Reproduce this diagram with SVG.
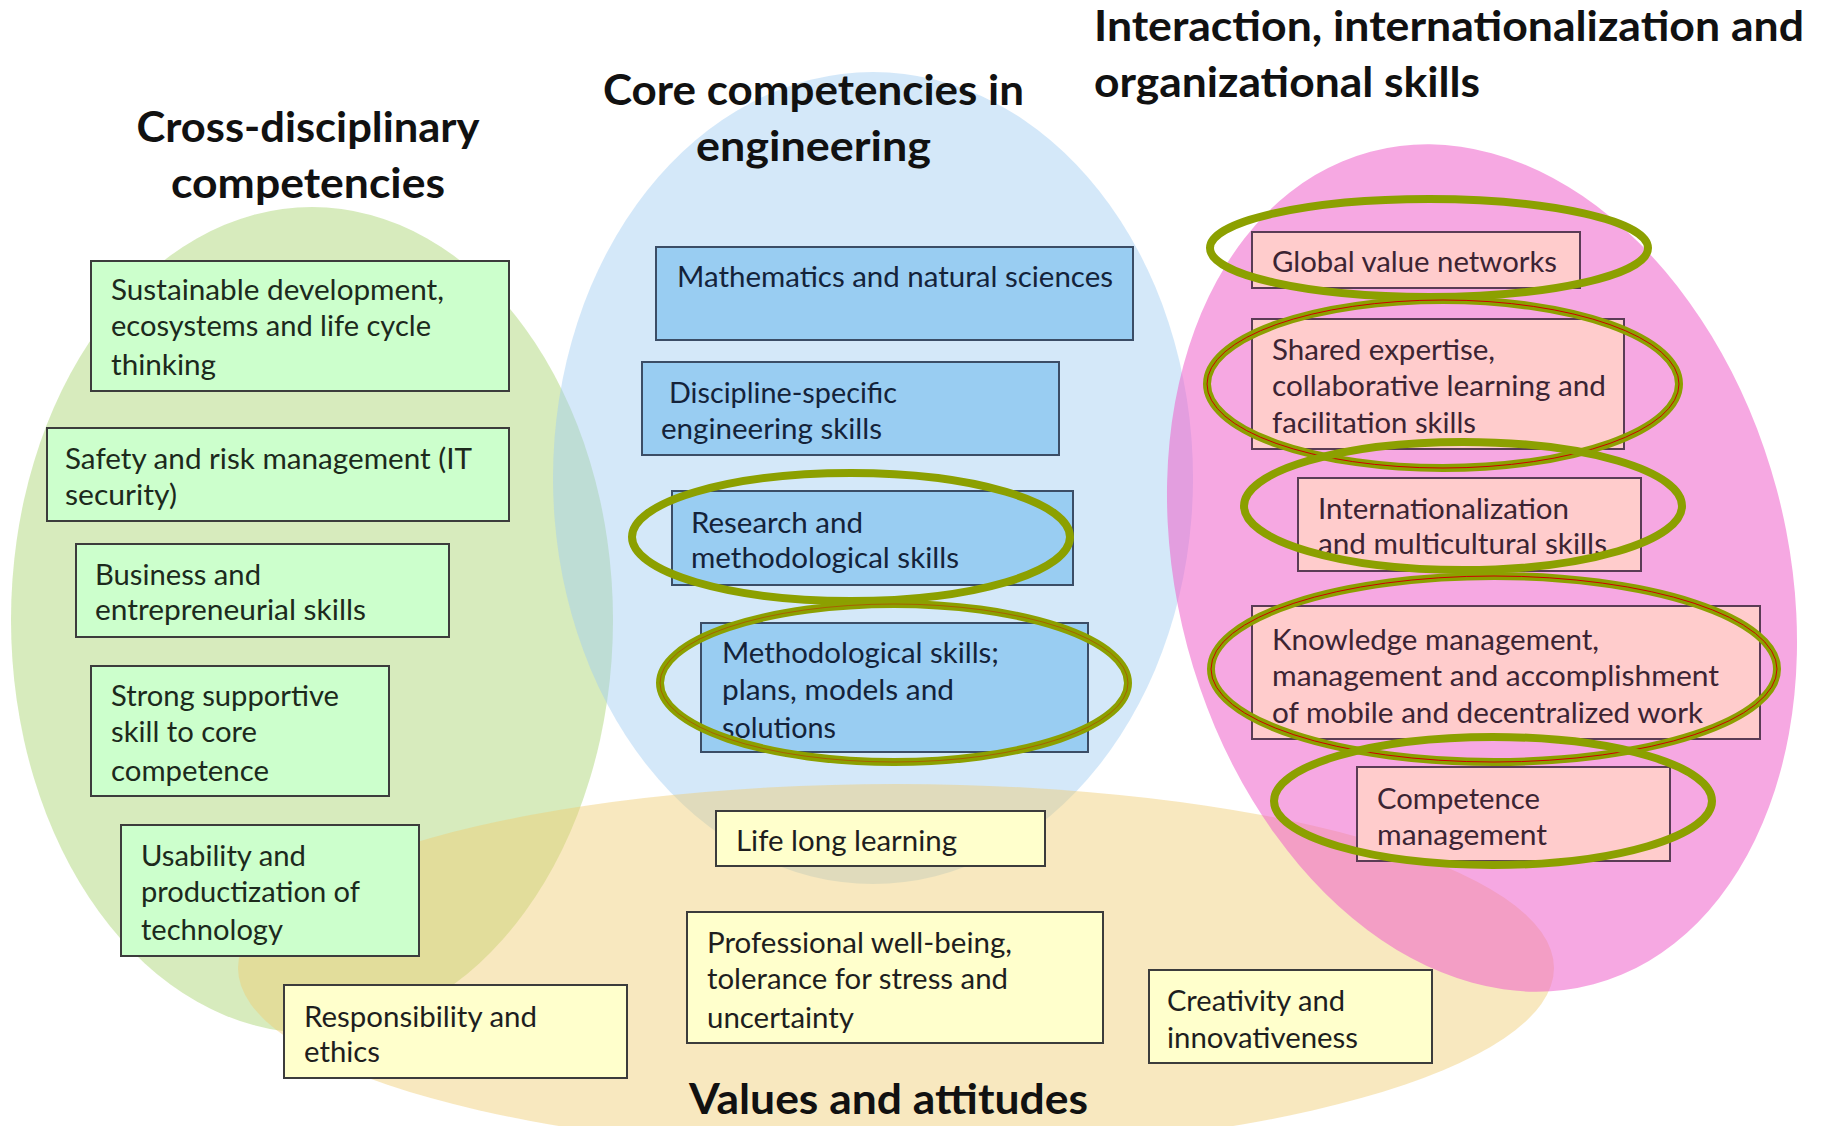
<svg xmlns="http://www.w3.org/2000/svg" width="1825" height="1126" viewBox="0 0 1825 1126">
<style>
.title{font-family:Lato,"Open Sans",sans-serif;font-weight:bold;font-size:42px;fill:#111}
.t{font-family:Lato,"Open Sans",sans-serif;font-size:28px}
.g rect{fill:#ccffcc;stroke:#3c3c3c;stroke-width:2}
.g text{fill:#1c2a1c}
.b rect{fill:#99cdf2;stroke:#3b4d66;stroke-width:2}
.b text{fill:#14233a}
.p rect{fill:#ffcccc;stroke:#5a3c55;stroke-width:2}
.p text{fill:#3c2433}
.y rect{fill:#ffffcc;stroke:#3c3c3c;stroke-width:2}
.y text{fill:#1e1e1e}
.hl{fill:none;stroke:#8ca000;stroke-width:8}
.red{fill:none;stroke:#cc0000;stroke-width:1}
</style>
<rect width="1825" height="1126" fill="#ffffff"/>
<g id="areas">
<ellipse cx="312" cy="620" rx="301" ry="413" fill="#9acd5a" fill-opacity="0.4"/>
<ellipse cx="873" cy="478" rx="320" ry="406" fill="#9fcdf2" fill-opacity="0.45"/>
<ellipse cx="896" cy="968" rx="658" ry="184" fill="#f0cc70" fill-opacity="0.45"/>
<ellipse cx="1482" cy="568" rx="305" ry="431" fill="#ee60ca" fill-opacity="0.55" transform="rotate(-15 1482 568)"/>
</g>
<g id="titles">
<text class="title" x="308" y="142" text-anchor="middle" textLength="343" lengthAdjust="spacingAndGlyphs">Cross-disciplinary</text>
<text class="title" x="308" y="198" text-anchor="middle" textLength="274" lengthAdjust="spacingAndGlyphs">competencies</text>
<text class="title" x="603" y="105" textLength="421" lengthAdjust="spacingAndGlyphs">Core competencies in</text>
<text class="title" x="696" y="161" textLength="235" lengthAdjust="spacingAndGlyphs">engineering</text>
<text class="title" x="1094" y="41" textLength="710" lengthAdjust="spacingAndGlyphs">Interaction, internationalization and</text>
<text class="title" x="1094" y="97" textLength="386" lengthAdjust="spacingAndGlyphs">organizational skills</text>
<text class="title" x="689" y="1114" textLength="399" lengthAdjust="spacingAndGlyphs">Values and attitudes</text>
</g>
<g id="g1" class="g"><rect x="91" y="261" width="418" height="130"/>
<text class="t" x="111" y="300" textLength="333" lengthAdjust="spacingAndGlyphs">Sustainable development,</text>
<text class="t" x="111" y="336" textLength="320" lengthAdjust="spacingAndGlyphs">ecosystems and life cycle</text>
<text class="t" x="111" y="375" textLength="105" lengthAdjust="spacingAndGlyphs">thinking</text></g>
<g id="g2" class="g"><rect x="47" y="428" width="462" height="93"/>
<text class="t" x="65" y="469" textLength="407" lengthAdjust="spacingAndGlyphs">Safety and risk management (IT</text>
<text class="t" x="65" y="505" textLength="112" lengthAdjust="spacingAndGlyphs">security)</text></g>
<g id="g3" class="g"><rect x="76" y="544" width="373" height="93"/>
<text class="t" x="95" y="585" textLength="166" lengthAdjust="spacingAndGlyphs">Business and</text>
<text class="t" x="95" y="620" textLength="271" lengthAdjust="spacingAndGlyphs">entrepreneurial skills</text></g>
<g id="g4" class="g"><rect x="91" y="666" width="298" height="130"/>
<text class="t" x="111" y="706" textLength="228" lengthAdjust="spacingAndGlyphs">Strong supportive</text>
<text class="t" x="111" y="742" textLength="146" lengthAdjust="spacingAndGlyphs">skill to core</text>
<text class="t" x="111" y="781" textLength="158" lengthAdjust="spacingAndGlyphs">competence</text></g>
<g id="g5" class="g"><rect x="121" y="825" width="298" height="131"/>
<text class="t" x="141" y="866" textLength="165" lengthAdjust="spacingAndGlyphs">Usability and</text>
<text class="t" x="141" y="902" textLength="219" lengthAdjust="spacingAndGlyphs">productization of</text>
<text class="t" x="141" y="940" textLength="142" lengthAdjust="spacingAndGlyphs">technology</text></g>
<g id="b1" class="b"><rect x="656" y="247" width="477" height="93"/>
<text class="t" x="677" y="287" textLength="436" lengthAdjust="spacingAndGlyphs">Mathematics and natural sciences</text></g>
<g id="b2" class="b"><rect x="642" y="362" width="417" height="93"/>
<text class="t" x="669" y="403" textLength="228" lengthAdjust="spacingAndGlyphs">Discipline-specific</text>
<text class="t" x="661" y="439" textLength="221" lengthAdjust="spacingAndGlyphs">engineering skills</text></g>
<g id="b3" class="b"><rect x="672" y="491" width="401" height="94"/>
<text class="t" x="691" y="533" textLength="172" lengthAdjust="spacingAndGlyphs">Research and</text>
<text class="t" x="691" y="568" textLength="268" lengthAdjust="spacingAndGlyphs">methodological skills</text></g>
<g id="b4" class="b"><rect x="701" y="623" width="387" height="129"/>
<text class="t" x="722" y="663" textLength="277" lengthAdjust="spacingAndGlyphs">Methodological skills;</text>
<text class="t" x="722" y="700" textLength="232" lengthAdjust="spacingAndGlyphs">plans, models and</text>
<text class="t" x="722" y="738" textLength="114" lengthAdjust="spacingAndGlyphs">solutions</text></g>
<g id="p1" class="p"><rect x="1252" y="232" width="328" height="56"/>
<text class="t" x="1272" y="272" textLength="285" lengthAdjust="spacingAndGlyphs">Global value networks</text></g>
<g id="p2" class="p"><rect x="1252" y="319" width="372" height="130"/>
<text class="t" x="1272" y="360" textLength="223" lengthAdjust="spacingAndGlyphs">Shared expertise,</text>
<text class="t" x="1272" y="396" textLength="334" lengthAdjust="spacingAndGlyphs">collaborative learning and</text>
<text class="t" x="1272" y="433" textLength="204" lengthAdjust="spacingAndGlyphs">facilitation skills</text></g>
<g id="p3" class="p"><rect x="1298" y="478" width="343" height="93"/>
<text class="t" x="1318" y="519" textLength="251" lengthAdjust="spacingAndGlyphs">Internationalization</text>
<text class="t" x="1318" y="554" textLength="289" lengthAdjust="spacingAndGlyphs">and multicultural skills</text></g>
<g id="p4" class="p"><rect x="1252" y="606" width="508" height="133"/>
<text class="t" x="1272" y="650" textLength="327" lengthAdjust="spacingAndGlyphs">Knowledge management,</text>
<text class="t" x="1272" y="686" textLength="447" lengthAdjust="spacingAndGlyphs">management and accomplishment</text>
<text class="t" x="1272" y="723" textLength="431" lengthAdjust="spacingAndGlyphs">of mobile and decentralized work</text></g>
<g id="p5" class="p"><rect x="1357" y="767" width="313" height="94"/>
<text class="t" x="1377" y="809" textLength="163" lengthAdjust="spacingAndGlyphs">Competence</text>
<text class="t" x="1377" y="845" textLength="170" lengthAdjust="spacingAndGlyphs">management</text></g>
<g id="y1" class="y"><rect x="716" y="811" width="329" height="55"/>
<text class="t" x="736" y="851" textLength="221" lengthAdjust="spacingAndGlyphs">Life long learning</text></g>
<g id="y2" class="y"><rect x="687" y="912" width="416" height="131"/>
<text class="t" x="707" y="953" textLength="305" lengthAdjust="spacingAndGlyphs">Professional well-being,</text>
<text class="t" x="707" y="989" textLength="301" lengthAdjust="spacingAndGlyphs">tolerance for stress and</text>
<text class="t" x="707" y="1028" textLength="147" lengthAdjust="spacingAndGlyphs">uncertainty</text></g>
<g id="y3" class="y"><rect x="284" y="985" width="343" height="93"/>
<text class="t" x="304" y="1027" textLength="233" lengthAdjust="spacingAndGlyphs">Responsibility and</text>
<text class="t" x="304" y="1062" textLength="76" lengthAdjust="spacingAndGlyphs">ethics</text></g>
<g id="y4" class="y"><rect x="1149" y="970" width="283" height="93"/>
<text class="t" x="1167" y="1011" textLength="178" lengthAdjust="spacingAndGlyphs">Creativity and</text>
<text class="t" x="1167" y="1048" textLength="191" lengthAdjust="spacingAndGlyphs">innovativeness</text></g>
<g id="highlights">
<ellipse class="hl" cx="1429" cy="248" rx="219" ry="49"/>
<ellipse class="hl" cx="1443" cy="384" rx="236" ry="84"/>
<ellipse class="red" cx="1443" cy="384" rx="236" ry="84"/>
<ellipse class="hl" cx="1463" cy="506" rx="219" ry="64"/>
<ellipse class="hl" cx="1494" cy="669" rx="283" ry="93"/>
<ellipse class="red" cx="1494" cy="669" rx="283" ry="93"/>
<ellipse class="hl" cx="1493" cy="801" rx="219" ry="64"/>
<ellipse class="hl" cx="851" cy="537" rx="219" ry="64"/>
<ellipse class="hl" cx="894" cy="683" rx="234" ry="79"/>
<ellipse class="red" cx="894" cy="683" rx="234" ry="79" stroke-opacity="0.4"/>
</g>
</svg>
